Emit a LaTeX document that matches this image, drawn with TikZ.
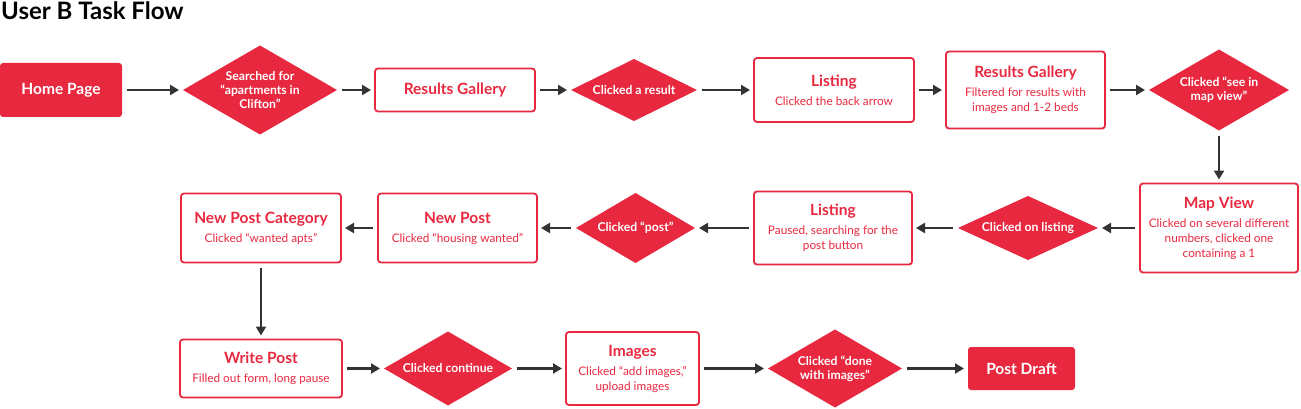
\documentclass[tikz,border=0pt]{standalone}
\usepackage{fontspec}
\setmainfont{Lato}
\usepackage{tikz}
\usetikzlibrary{positioning, arrows.meta, shapes.geometric}
\definecolor{flowRed}{HTML}{E8283F}
\definecolor{arrowInk}{HTML}{333333}
\newcommand{\boxtitle}[1]{{\fontsize{15.5}{18}\selectfont\bfseries #1}}

\begin{document}
\begin{tikzpicture}[x=1pt, y=-1pt, page/.style={draw=flowRed, line width=1.8pt, rounded corners=3pt, text=flowRed, align=center, inner sep=0pt, outer sep=0pt, font=\fontsize{11.8}{15}\selectfont}, term/.style={fill=flowRed, rounded corners=3pt, text=white, align=center, inner sep=0pt, outer sep=0pt, font=\fontsize{15.5}{18}\selectfont\bfseries}, choice/.style={diamond, fill=flowRed, text=white, align=center, inner sep=0pt, outer sep=0pt, font=\fontsize{12.2}{14}\selectfont\bfseries}, arr/.style={draw=arrowInk, line width=2.6pt, -{Triangle[length=9pt, width=10pt]}, shorten <=5pt, shorten >=4pt}]
\useasboundingbox (0,0) rectangle (1301,409);
\node[anchor=base west, inner sep=0pt, font=\fontsize{24}{28}\selectfont\bfseries] (heading) at (1,20) {User B Task Flow};
\node[term, minimum width=122pt, minimum height=54pt] (home) at (61,90) {Home Page};
\node[choice, shape aspect=1.73, minimum width=154pt, minimum height=89pt, right=61pt of home] (search) {Searched for\\“apartments in\\Clifton”};
\node[page, minimum width=160pt, minimum height=43pt, right=38pt of search] (gallery) {\boxtitle{Results Gallery}};
\node[choice, shape aspect=2.03, minimum width=126pt, minimum height=62pt, right=36pt of gallery] (result) {Clicked a result};
\node[page, minimum width=160pt, minimum height=64pt, right=57pt of result] (listing) {\boxtitle{Listing}\\[4pt]Clicked the back arrow};
\node[page, minimum width=159pt, minimum height=77pt, right=32pt of listing] (filtered) {\boxtitle{Results Gallery}\\[4pt]Filtered for results with\\images and 1-2 beds};
\node[choice, shape aspect=1.73, minimum width=140pt, minimum height=81pt, right=44pt of filtered] (mapclick) {Clicked “see in\\map view”};
\node[page, minimum width=158pt, minimum height=89pt, below=53pt of mapclick] (mapview) {\boxtitle{Map View}\\[4pt]Clicked on several different\\numbers, clicked one\\containing a 1};
\node[choice, shape aspect=2.19, minimum width=140pt, minimum height=64pt, left=42pt of mapview] (onlisting) {Clicked on listing};
\node[page, minimum width=158pt, minimum height=73pt, left=46pt of onlisting] (listingb) {\boxtitle{Listing}\\[4pt]Paused, searching for the\\post button};
\node[choice, shape aspect=1.7, minimum width=119pt, minimum height=70pt, left=59pt of listingb] (post) {Clicked “post”};
\node[page, minimum width=159pt, minimum height=69pt, left=39pt of post] (newpost) {\boxtitle{New Post}\\[4pt]Clicked “housing wanted”};
\node[page, minimum width=160pt, minimum height=69pt, left=37pt of newpost] (category) {\boxtitle{New Post Category}\\[4pt]Clicked “wanted apts”};
\node[page, minimum width=162pt, minimum height=58pt, below=77pt of category] (write) {\boxtitle{Write Post}\\[4pt]Filled out form, long pause};
\node[choice, shape aspect=1.73, minimum width=128pt, minimum height=74pt, right=42pt of write] (continue) {Clicked continue};
\node[page, minimum width=133pt, minimum height=73pt, right=54pt of continue] (images) {\boxtitle{Images}\\[4pt]Clicked “add images,”\\upload images};
\node[choice, shape aspect=1.72, minimum width=134pt, minimum height=78pt, right=69pt of images] (done) {Clicked “done\\with images”};
\node[term, minimum width=107pt, minimum height=43pt, right=66pt of done] (draft) {Post Draft};
\draw[arr] (home) -- (search);
\draw[arr] (search) -- (gallery);
\draw[arr] (gallery) -- (result);
\draw[arr] (result) -- (listing);
\draw[arr] (listing) -- (filtered);
\draw[arr] (filtered) -- (mapclick);
\draw[arr] (mapclick) -- (mapview);
\draw[arr] (mapview) -- (onlisting);
\draw[arr] (onlisting) -- (listingb);
\draw[arr] (listingb) -- (post);
\draw[arr] (post) -- (newpost);
\draw[arr] (newpost) -- (category);
\draw[arr] (category) -- (write);
\draw[arr] (write) -- (continue);
\draw[arr] (continue) -- (images);
\draw[arr] (images) -- (done);
\draw[arr] (done) -- (draft);
\end{tikzpicture}
\end{document}
